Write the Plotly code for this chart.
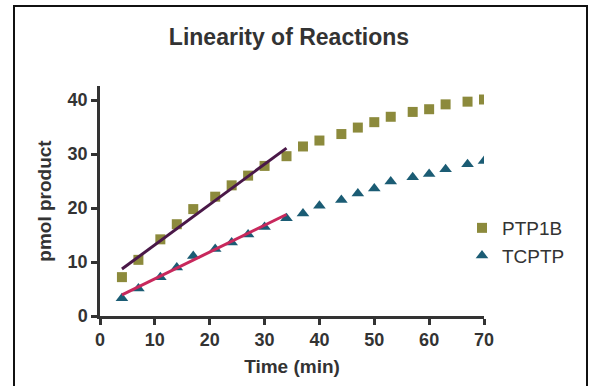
import plotly.graph_objects as go

# Data
time_min = [4, 7, 11, 14, 17, 21, 24, 27, 30, 34, 37, 40, 44, 47, 50, 53, 57, 60, 63, 67, 70]
ptp1b = [7.2, 10.4, 14.2, 17.0, 19.8, 22.1, 24.2, 26.0, 27.8, 29.6, 31.4, 32.5, 33.7, 34.9,
         35.9, 36.9, 37.8, 38.3, 39.2, 39.7, 40.1]
tcptp = [3.3, 5.1, 7.2, 9.0, 11.1, 12.4, 13.6, 15.1, 16.5, 18.1, 19.0, 20.4, 21.5, 22.7,
         23.6, 24.9, 25.7, 26.3, 27.2, 28.1, 28.7]

# Linear fit segments (initial rate region)
fit_x = [4, 34]
ptp1b_fit = [8.7, 31.1]
tcptp_fit = [3.9, 18.8]

x_ticks = [0, 10, 20, 30, 40, 50, 60, 70]
y_ticks = [0, 10, 20, 30, 40]

FONT = "Liberation Sans, Arial, sans-serif"
DARK = "#333333"

fig = go.Figure()
fig.add_trace(go.Scatter(x=time_min, y=ptp1b, mode="markers", name="PTP1B",
                         marker=dict(symbol="square", size=10, color="#8c8a3c")))
fig.add_trace(go.Scatter(x=time_min, y=tcptp, mode="markers", name="TCPTP",
                         marker=dict(symbol="triangle-up", size=11, color="#1b5c74")))
fig.add_trace(go.Scatter(x=fit_x, y=ptp1b_fit, mode="lines", showlegend=False,
                         line=dict(color="#4a1848", width=3)))
fig.add_trace(go.Scatter(x=fit_x, y=tcptp_fit, mode="lines", showlegend=False,
                         line=dict(color="#c8285c", width=3)))

ml, mt, W, H = 100, 86, 592, 386
pw, ph = 384, 230

def px2paper_x(px):
    return (px - ml) / pw

def px2paper_y(py):
    return (mt + ph - py) / ph

fig.add_shape(type="rect", xref="paper", yref="paper",
              x0=px2paper_x(14), x1=px2paper_x(587), y0=px2paper_y(395), y1=px2paper_y(6),
              line=dict(color="#111111", width=2), fillcolor="rgba(0,0,0,0)", layer="below")

fig.update_layout(
    width=W, height=H,
    margin=dict(l=ml, r=W - ml - pw, t=mt, b=H - mt - ph),
    paper_bgcolor="white", plot_bgcolor="white",
    title=dict(text="<b>Linearity of Reactions</b>", x=(289) / W, xanchor="center",
               y=1 - 37 / H, yanchor="middle",
               font=dict(family=FONT, size=23, color=DARK)),
    font=dict(family=FONT, color=DARK),
    showlegend=True,
    legend=dict(x=px2paper_x(462), y=px2paper_y(209), xanchor="left", yanchor="top",
                font=dict(family=FONT, size=19, color=DARK), bgcolor="rgba(0,0,0,0)",
                itemwidth=30, tracegroupgap=0),
    xaxis=dict(range=[0, 70], tickvals=x_ticks, ticktext=[f"<b>{v}</b>" for v in x_ticks],
               showline=True, linecolor=DARK, linewidth=2.5, ticks="outside", ticklen=6,
               tickwidth=2.5, tickcolor=DARK, showgrid=False, zeroline=False,
               tickfont=dict(family=FONT, size=18, color=DARK),
               title=dict(text="<b>Time (min)</b>", font=dict(family=FONT, size=19, color=DARK),
                          standoff=11)),
    yaxis=dict(range=[0, 42.6], tickvals=y_ticks, ticktext=[f"<b>{v}</b>" for v in y_ticks],
               showline=True, linecolor=DARK, linewidth=2.5, ticks="outside", ticklen=6,
               tickwidth=2.5, tickcolor=DARK, showgrid=False, zeroline=False,
               tickfont=dict(family=FONT, size=18, color=DARK),
               title=dict(text="<b>pmol product</b>", font=dict(family=FONT, size=19, color=DARK),
                          standoff=11)),
)

fig.write_html("out.html")
